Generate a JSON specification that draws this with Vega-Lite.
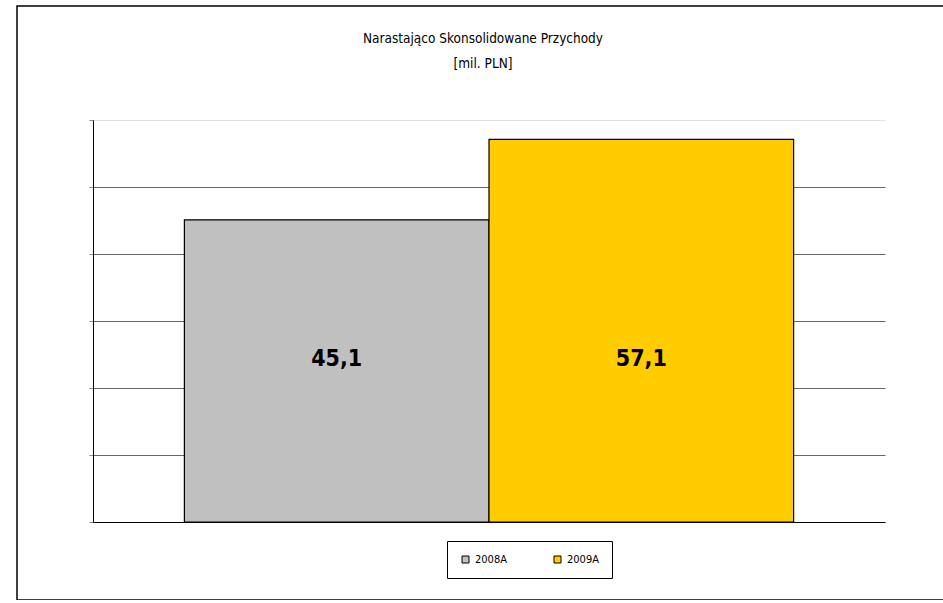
{
  "$schema": "https://vega.github.io/schema/vega-lite/v6.json",
  "width": 928,
  "height": 594,
  "autosize": {"type": "none"},
  "padding": {"left": 17, "top": 6, "right": 0, "bottom": 0},
  "background": "white",
  "config": {
    "view": {"stroke": "#000", "strokeWidth": 1.5},
    "locale": {"number": {"decimal": ",", "thousands": " ", "grouping": [3], "currency": ["", ""]}},
    "font": "Liberation Sans Narrow, DejaVu Sans Condensed, Liberation Sans, Arial"
  },
  "title": {
    "text": ["Narastająco Skonsolidowane Przychody", "[mil. PLN]"],
    "fontSize": 13.5,
    "fontWeight": "normal",
    "lineHeight": 25,
    "anchor": "middle",
    "offset": -64,
    "dx": 2,
    "color": "#000"
  },
  "data": {"values": [
    {"year": "2008A", "value": 45.1},
    {"year": "2009A", "value": 57.1}
  ]},
  "layer": [
    {
      "mark": {"type": "bar", "stroke": "#000", "strokeWidth": 1.2},
      "encoding": {
        "x": {
          "field": "year", "type": "nominal",
          "scale": {"range": [76, 868], "paddingInner": 0, "paddingOuter": 0.3},
          "axis": {"orient": "bottom", "offset": -78, "title": null, "labels": false, "ticks": false, "domainColor": "#000", "grid": false}
        },
        "y": {
          "field": "value", "type": "quantitative",
          "scale": {"domain": [0, 60], "range": [516, 114], "nice": false},
          "axis": {
            "values": [0, 10, 20, 30, 40, 50, 60],
            "offset": -76, "title": null, "labels": false,
            "tickSize": 4, "tickColor": "#888", "domainColor": "#000",
            "grid": true,
            "gridColor": {"condition": {"test": "datum.value == 60", "value": "#e0e0e0"}, "value": "#666"},
            "gridOpacity": 1
          }
        },
        "color": {
          "field": "year", "type": "nominal",
          "scale": {"range": ["#c0c0c0", "#ffcc00"]},
          "legend": {
            "orient": "none", "legendX": 430, "legendY": 535,
            "direction": "horizontal", "title": null,
            "symbolType": "square", "symbolSize": 49,
            "symbolStrokeColor": "#000", "symbolStrokeWidth": 1,
            "labelFontSize": 11, "labelColor": "#000",
            "columnPadding": 45, "padding": 13,
            "strokeColor": "#000", "fillColor": "white"
          }
        }
      }
    },
    {
      "mark": {"type": "text", "fontSize": 23, "fontWeight": "bold", "baseline": "middle", "color": "#000"},
      "encoding": {
        "x": {"field": "year", "type": "nominal"},
        "y": {"datum": 24.4},
        "text": {"field": "value", "type": "quantitative", "format": ".1f"}
      }
    }
  ]
}
